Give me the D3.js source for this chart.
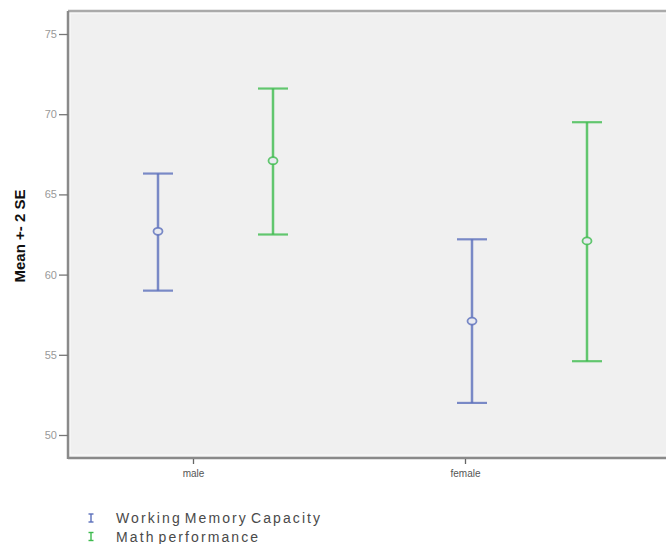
<!DOCTYPE html>
<html>
<head>
<meta charset="utf-8">
<script src="https://cdn.jsdelivr.net/npm/d3@7"></script>
<style>
  body { margin: 0; background: #fff; }
  svg { display: block; font-family: Arial, "Liberation Sans", sans-serif; }
</style>
</head>
<body>
<script>
var categories = ["male", "female"];
var seriesNames = ["Working Memory Capacity", "Math performance"];
var seriesColors = ["#5b6fbb", "#3dbb4e"];
// mean, lower and upper (mean +- 2 SE) per category
var wmcMean = [62.7, 57.1];
var wmcLow = [59.0, 52.0];
var wmcHigh = [66.3, 62.2];
var mathMean = [67.1, 62.1];
var mathLow = [62.5, 54.6];
var mathHigh = [71.6, 69.5];
var yTicks = [50, 55, 60, 65, 70, 75];

var width = 666, height = 544;
var plot = {left: 68, top: 11, right: 700, bottom: 458};

var svg = d3.select("body").append("svg")
    .attr("width", width)
    .attr("height", height);

// plot background and frame
svg.append("rect")
    .attr("x", plot.left).attr("y", plot.top)
    .attr("width", plot.right - plot.left).attr("height", plot.bottom - plot.top)
    .style("fill", "#f0f0f0");
svg.append("rect")
    .attr("x", plot.left + 2).attr("y", plot.top + 2)
    .attr("width", plot.right - plot.left).attr("height", plot.bottom - plot.top - 5)
    .style("fill", "none").style("stroke", "#f8f8f8").style("stroke-width", 1.5);
svg.append("line")
    .attr("x1", plot.left).attr("x2", plot.right)
    .attr("y1", plot.top).attr("y2", plot.top)
    .style("stroke", "#aaa").style("stroke-width", 2.5);
svg.append("line")
    .attr("x1", plot.left).attr("x2", plot.right)
    .attr("y1", plot.bottom).attr("y2", plot.bottom)
    .style("stroke", "#8a8a8a").style("stroke-width", 2.5);
svg.append("line")
    .attr("x1", plot.left).attr("x2", plot.left)
    .attr("y1", plot.top).attr("y2", plot.bottom + 1)
    .style("stroke", "#8a8a8a").style("stroke-width", 2.5);

var yScale = d3.scaleLinear()
    .domain([50, 75])
    .range([435, 34]);

// category ticks and the bar clusters don't share centres in the source image
var xTick = d3.scalePoint()
    .domain(categories)
    .range([193, 465]);
var xGroup = d3.scalePoint()
    .domain(categories)
    .range([215, 529]);
var xSeries = d3.scalePoint()
    .domain(seriesNames)
    .range([-57, 58]);

var yAxis = svg.append("g")
    .attr("transform", "translate(" + plot.left + ",0)")
    .call(d3.axisLeft(yScale).tickValues(yTicks).tickSize(9).tickPadding(2));
yAxis.select(".domain").remove();
yAxis.selectAll("line").style("stroke", "#777").style("stroke-width", 1.3);
yAxis.selectAll("text").style("fill", "#999").style("font-size", "11px");

var xAxis = svg.append("g")
    .attr("transform", "translate(0," + (plot.bottom + 1) + ")")
    .call(d3.axisBottom(xTick).tickSize(5).tickPadding(6));
xAxis.select(".domain").remove();
xAxis.selectAll("line").style("stroke", "#666").style("stroke-width", 1.3);
xAxis.selectAll("text").style("fill", "#555").style("font-size", "10px");

svg.append("text")
    .attr("text-anchor", "middle")
    .attr("transform", "translate(25,236)rotate(-90)")
    .style("font-size", "15px")
    .style("font-weight", "bold")
    .style("fill", "#111")
    .text("Mean +- 2 SE");

var rows = [];
categories.forEach(function (c, i) {
    rows.push({cat: c, s: 0, mean: wmcMean[i], low: wmcLow[i], high: wmcHigh[i]});
    rows.push({cat: c, s: 1, mean: mathMean[i], low: mathLow[i], high: mathHigh[i]});
});

var bars = svg.selectAll(".ebar")
    .data(rows)
    .enter().append("g")
    .attr("class", "ebar")
    .attr("transform", function (d) {
        return "translate(" + (xGroup(d.cat) + xSeries(seriesNames[d.s])) + ",0)";
    })
    .style("stroke", function (d) { return seriesColors[d.s]; })
    .style("stroke-opacity", 0.8);

bars.append("line")
    .attr("y1", function (d) { return yScale(d.high); })
    .attr("y2", function (d) { return yScale(d.low); })
    .style("stroke-width", 2.5);
bars.append("line")
    .attr("x1", -15).attr("x2", 15)
    .attr("y1", function (d) { return yScale(d.high); })
    .attr("y2", function (d) { return yScale(d.high); })
    .style("stroke-width", 2.2);
bars.append("line")
    .attr("x1", -15).attr("x2", 15)
    .attr("y1", function (d) { return yScale(d.low); })
    .attr("y2", function (d) { return yScale(d.low); })
    .style("stroke-width", 2.2);
bars.append("ellipse")
    .attr("cy", function (d) { return yScale(d.mean); })
    .attr("rx", 4.5).attr("ry", 3.5)
    .style("fill", "#e8eaf0")
    .style("stroke-width", 1.8);

// legend
var legend = svg.append("g")
    .attr("class", "legend");
seriesNames.forEach(function (name, i) {
    var y = 518 + i * 18.5;
    var g = legend.append("g")
        .attr("transform", "translate(91," + y + ")")
        .style("stroke", seriesColors[i])
        .style("stroke-width", 1.4);
    g.append("line").attr("y1", -4).attr("y2", 4);
    g.append("line").attr("x1", -2.5).attr("x2", 2.5).attr("y1", -4).attr("y2", -4);
    g.append("line").attr("x1", -2.5).attr("x2", 2.5).attr("y1", 4).attr("y2", 4);
    legend.append("text")
        .attr("x", 116)
        .attr("y", y + 5)
        .style("font-size", "14px")
        .style("letter-spacing", "2.1px")
        .style("word-spacing", "-3px")
        .style("fill", "#4a4a4a")
        .text(name);
});
</script>
</body>
</html>
